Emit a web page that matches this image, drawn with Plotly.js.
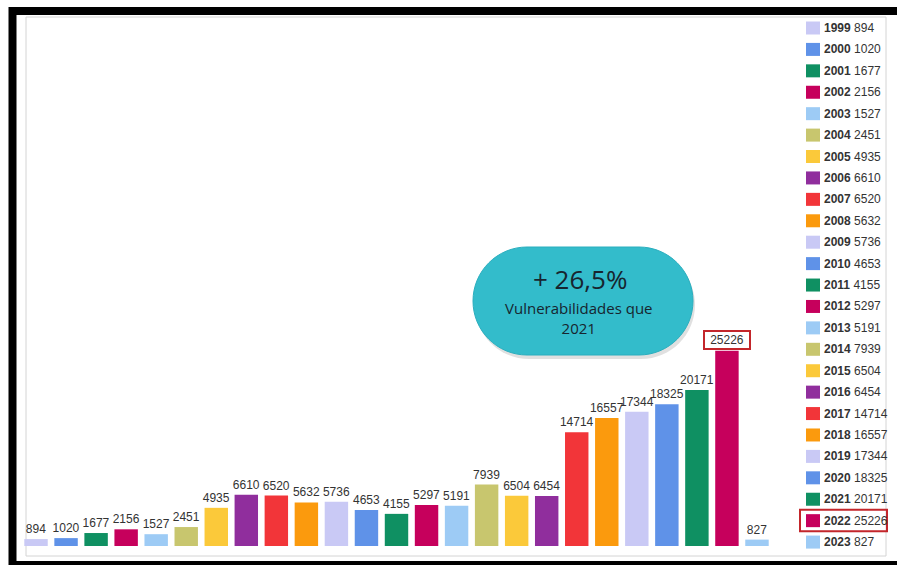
<!DOCTYPE html>
<html><head><meta charset="utf-8">
<script src="https://cdn.plot.ly/plotly-3.0.1.min.js"></script>
<style>html,body{margin:0;padding:0;background:#fff;}#chart{width:897px;height:565px;}</style>
</head><body><div id="chart"></div>
<script>
// ---- data ----
const years = ['1999','2000','2001','2002','2003','2004','2005','2006','2007','2008','2009','2010','2011','2012','2013','2014','2015','2016','2017','2018','2019','2020','2021','2022','2023'];
const values = [894,1020,1677,2156,1527,2451,4935,6610,6520,5632,5736,4653,4155,5297,5191,7939,6504,6454,14714,16557,17344,18325,20171,25226,827];
const palette = ['#c9c9f5','#5f92e8','#0f9062','#c6005c','#9dcbf5','#c8c66e','#fbc93a','#902e9d','#f23539','#fb9a0d'];
const highlightYear = '2022';
const bubbleTitle = '+ 26,5%';
const bubbleLines = ['Vulnerabilidades que', '2021'];

// ---- layout helpers (pixel -> paper) ----
const W = 897, H = 565;
const M = {l: 21, r: 125, t: 20, b: 19};
const PW = W - M.l - M.r, PH = H - M.t - M.b;
const X = px => (px - M.l) / PW;
const Y = py => (H - M.b - py) / PH;

const colors = years.map((y, i) => palette[i % palette.length]);
const hiIdx = years.indexOf(highlightYear);
const font = 'Arial, "Liberation Sans", sans-serif';

const trace = {
  type: 'bar',
  x: years,
  y: values,
  marker: {color: colors, line: {width: 0}},
  text: values.map((v, i) => i === hiIdx ? '' : String(v)),
  textposition: 'outside',
  textfont: {family: font, size: 12, color: '#333'},
  constraintext: 'none',
  cliponaxis: false,
  hoverinfo: 'x+y'
};

const shapes = [];
const annotations = [];

// outer black frame and inner grey frame
shapes.push({type: 'rect', xref: 'paper', yref: 'paper', x0: X(12.5), x1: X(910), y0: Y(11), y1: Y(565), line: {color: '#000', width: 8}, fillcolor: 'rgba(0,0,0,0)', layer: 'below'});
shapes.push({type: 'rect', xref: 'paper', yref: 'paper', x0: X(26), x1: X(886), y0: Y(17), y1: Y(556), line: {color: '#d4d4d4', width: 1}, fillcolor: 'rgba(0,0,0,0)', layer: 'below'});

// legend
const legTop = 28, legStep = 21.42;
years.forEach((yr, i) => {
  const cy = legTop + legStep * i;
  shapes.push({type: 'rect', xref: 'paper', yref: 'paper', x0: X(806), x1: X(820), y0: Y(cy - 6.5), y1: Y(cy + 6.5), fillcolor: colors[i], line: {width: 0}});
  annotations.push({xref: 'paper', yref: 'paper', x: X(822), y: Y(cy), xanchor: 'left', yanchor: 'middle', showarrow: false,
    text: '<b>' + yr + '</b> ' + values[i], font: {family: font, size: 12, color: '#333'}});
});
// legend highlight
const hy = legTop + legStep * hiIdx;
shapes.push({type: 'rect', xref: 'paper', yref: 'paper', x0: X(800), x1: X(887), y0: Y(hy - 11), y1: Y(hy + 10.5), line: {color: '#c3262b', width: 2}, fillcolor: 'rgba(0,0,0,0)'});

// highlighted bar label (category axis: serial index)
annotations.push({xref: 'x', yref: 'y', x: hiIdx, y: values[hiIdx], yanchor: 'bottom', yshift: 1, showarrow: false,
  text: String(values[hiIdx]), width: 42, height: 14, borderpad: 1, bordercolor: '#c3262b', borderwidth: 2,
  font: {family: font, size: 12, color: '#333'}});

// bubble
const r = 54, a = 56, k = 0.5523 * r;
const stadium = `M ${-a},${r} L ${a},${r} C ${a + k},${r} ${a + r},${k} ${a + r},0 C ${a + r},${-k} ${a + k},${-r} ${a},${-r} L ${-a},${-r} C ${-a - k},${-r} ${-a - r},${-k} ${-a - r},0 C ${-a - r},${k} ${-a - k},${r} ${-a},${r} Z`;
const bx = 583, by = 301;
shapes.push({type: 'path', xref: 'paper', yref: 'paper', xsizemode: 'pixel', ysizemode: 'pixel', xanchor: X(bx + 2), yanchor: Y(by + 4), path: stadium, fillcolor: 'rgba(0,0,0,0.12)', line: {width: 0}});
shapes.push({type: 'path', xref: 'paper', yref: 'paper', xsizemode: 'pixel', ysizemode: 'pixel', xanchor: X(bx), yanchor: Y(by), path: stadium, fillcolor: '#33bccb', line: {color: '#2aaebe', width: 1}});
annotations.push({xref: 'paper', yref: 'paper', x: X(580), y: Y(279), xanchor: 'center', yanchor: 'middle', showarrow: false,
  text: bubbleTitle, font: {family: '"Open Sans", sans-serif', size: 26, color: '#17252f'}});
annotations.push({xref: 'paper', yref: 'paper', x: X(579), y: Y(318), xanchor: 'center', yanchor: 'middle', showarrow: false,
  text: bubbleLines.join('<br>'), font: {family: '"Open Sans", sans-serif', size: 15, color: '#17252f'}});

const layout = {
  width: W, height: H,
  margin: M,
  paper_bgcolor: '#fff', plot_bgcolor: '#fff',
  showlegend: false,
  bargap: 0.22,
  xaxis: {type: 'category', showticklabels: false, showgrid: false, zeroline: false, showline: false, ticks: '', range: [-0.5, years.length - 0.5]},
  yaxis: {range: [0, 68000], showticklabels: false, showgrid: false, zeroline: false, showline: false, ticks: ''},
  shapes: shapes,
  annotations: annotations,
  font: {family: font}
};

Plotly.newPlot('chart', [trace], layout, {displayModeBar: false, staticPlot: true});
</script>
</body></html>
